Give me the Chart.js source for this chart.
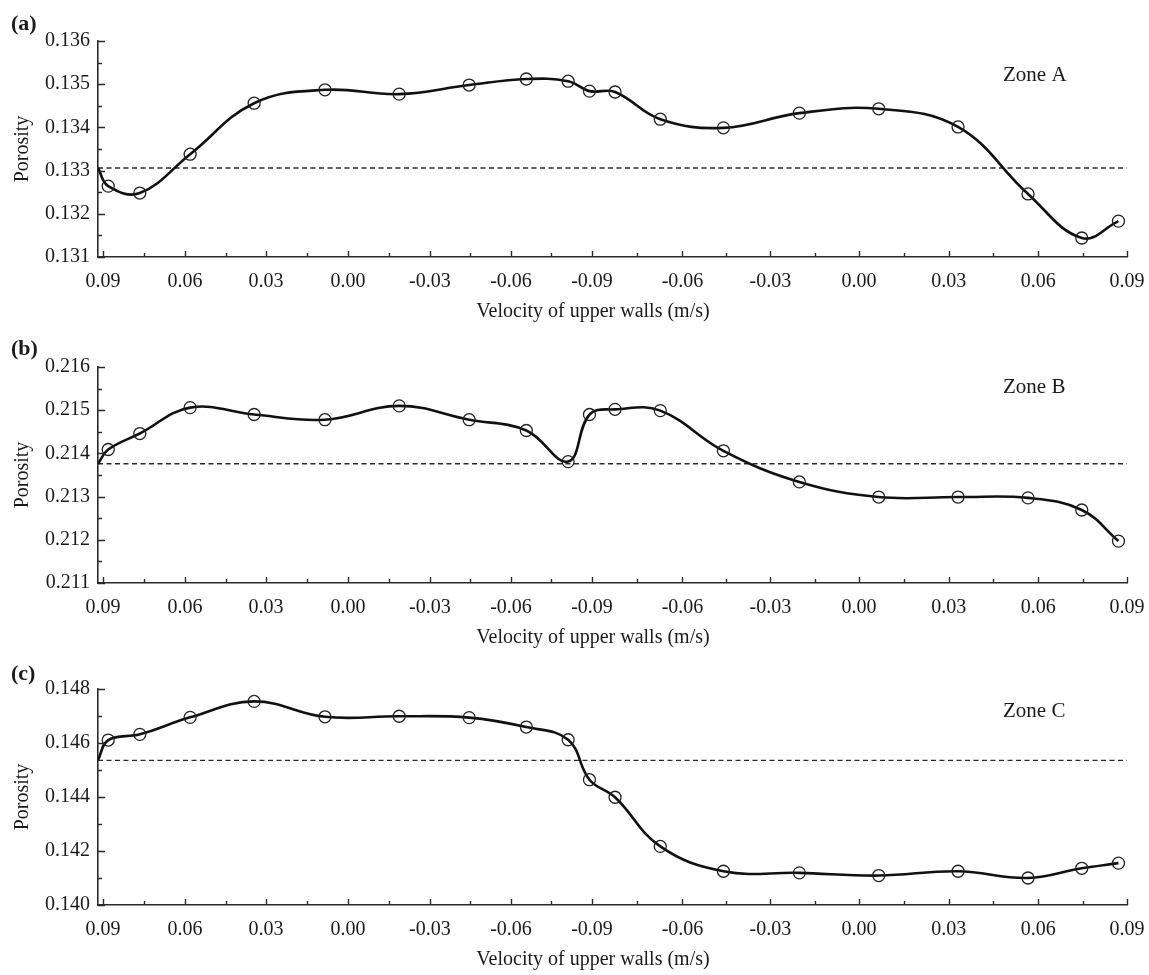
<!DOCTYPE html>
<html>
<head>
<meta charset="utf-8">
<script src="https://cdn.jsdelivr.net/npm/chart.js@4.4.1/dist/chart.umd.min.js"></script>
<style>
  html, body { margin: 0; padding: 0; background: #ffffff; }
  #wrap { position: relative; width: 1149px; height: 975px; overflow: hidden; }
  .panel { position: absolute; left: 0; width: 1149px; height: 325px; }
</style>
</head>
<body>
<div id="wrap">
  <div class="panel" style="top:0px"><canvas id="zoneA" width="1149" height="325"></canvas></div>
  <div class="panel" style="top:326px"><canvas id="zoneB" width="1149" height="325"></canvas></div>
  <div class="panel" style="top:648px"><canvas id="zoneC" width="1149" height="325"></canvas></div>
</div>
<script>
// Shearing cycle position (axis units) and the wall velocity printed at each major tick
const xTickPositions = [0, 0.96, 1.91, 2.87, 3.83, 4.78, 5.73, 6.79, 7.82, 8.86, 9.91, 10.96, 12];
const xTickLabels = ['0.09', '0.06', '0.03', '0.00', '-0.03', '-0.06', '-0.09', '-0.06', '-0.03', '0.00', '0.03', '0.06', '0.09'];
const xStart = -0.06;
const xEnd = 12;
const xTitle = 'Velocity of upper walls (m/s)';

// Sampling positions along the cycle (first entry is the initial state)
const sampleX = [-0.06, 0.06, 0.43, 1.02, 1.77, 2.60, 3.47, 4.29, 4.96, 5.45, 5.70, 6.00, 6.53, 7.27, 8.16, 9.09, 10.02, 10.84, 11.47, 11.90];

// Initial porosity of each zone (dashed reference line)
const initialA = 0.13306;
const initialB = 0.21376;
const initialC = 0.14536;

// Porosity per zone
const porosityA = [initialA, 0.13264, 0.13248, 0.13338, 0.13456, 0.13487, 0.13477, 0.13498, 0.13512, 0.13507, 0.13484, 0.13482, 0.13419, 0.13399, 0.13433, 0.13443, 0.13401, 0.13246, 0.13144, 0.13183];
const porosityB = [initialB, 0.21409, 0.21446, 0.21506, 0.21490, 0.21478, 0.21510, 0.21478, 0.21453, 0.21381, 0.21490, 0.21502, 0.21499, 0.21406, 0.21334, 0.21299, 0.21299, 0.21297, 0.21269, 0.21197];
const porosityC = [initialC, 0.14611, 0.14632, 0.14695, 0.14754, 0.14697, 0.14699, 0.14694, 0.14659, 0.14612, 0.14464, 0.14399, 0.14217, 0.14125, 0.14119, 0.14109, 0.14125, 0.14100, 0.14136, 0.14155];

// Y tick values per zone
const yTicksA = [0.131, 0.132, 0.133, 0.134, 0.135, 0.136];
const yTicksB = [0.211, 0.212, 0.213, 0.214, 0.215, 0.216];
const yTicksC = [0.140, 0.142, 0.144, 0.146, 0.148];

const FONT = '"Liberation Serif", "Times New Roman", serif';
const INK = '#1a1a1a';

// Inward major/minor tick marks, the x-axis title, the panel letter and zone caption
const decorations = {
  id: 'decorations',
  afterDraw(chart, args, o) {
    const { ctx, chartArea: a, scales: { x, y } } = chart;
    ctx.save();
    ctx.strokeStyle = '#2a2a2a';
    ctx.lineWidth = 1.4;
    ctx.beginPath();
    xTickPositions.forEach((v, i) => {
      const px = Math.round(x.getPixelForValue(v)) + 0.5;
      ctx.moveTo(px, a.bottom);
      ctx.lineTo(px, a.bottom - 6);
      if (i < xTickPositions.length - 1) {
        const m = Math.round(x.getPixelForValue((v + xTickPositions[i + 1]) / 2)) + 0.5;
        ctx.moveTo(m, a.bottom);
        ctx.lineTo(m, a.bottom - 4);
      }
    });
    o.yTicks.forEach((v, i) => {
      const py = Math.round(y.getPixelForValue(v)) + 0.5;
      ctx.moveTo(a.left, py);
      ctx.lineTo(a.left + 7, py);
      if (i < o.yTicks.length - 1) {
        const m = Math.round(y.getPixelForValue((v + o.yTicks[i + 1]) / 2)) + 0.5;
        ctx.moveTo(a.left, m);
        ctx.lineTo(a.left + 4, m);
      }
    });
    ctx.stroke();

    ctx.fillStyle = INK;
    ctx.textBaseline = 'middle';
    ctx.textAlign = 'center';
    ctx.font = '20px ' + FONT;
    ctx.fillText(xTitle, 593, a.bottom + 55);

    ctx.textAlign = 'left';
    ctx.font = 'bold 22px ' + FONT;
    ctx.fillText(o.letter, 11, o.letterY);
    ctx.font = '21px ' + FONT;
    ctx.fillText(o.zone, 1003, a.top + o.zoneDy);
    ctx.restore();
  }
};

function makePanel(canvasId, values, initial, yTicks, letter, letterY, zone, zoneDy) {
  const points = sampleX.map((x, i) => ({ x: x, y: values[i] }));
  new Chart(document.getElementById(canvasId), {
    type: 'line',
    data: {
      datasets: [
        {
          data: points,
          borderColor: '#111111',
          borderWidth: 2.6,
          tension: 0.4,
          fill: false,
          pointRadius: ctx => (ctx.dataIndex === 0 ? 0 : 6),
          pointBorderColor: '#222222',
          pointBorderWidth: 1.3,
          pointBackgroundColor: 'rgba(0,0,0,0)'
        },
        {
          data: [{ x: xStart, y: initial }, { x: xEnd, y: initial }],
          borderColor: '#2a2a2a',
          borderWidth: 1.3,
          borderDash: [5, 3.5],
          pointRadius: 0,
          tension: 0,
          fill: false
        }
      ]
    },
    options: {
      responsive: false,
      animation: false,
      devicePixelRatio: 1,
      layout: { padding: { top: 41, right: 22, left: 0, bottom: 0 } },
      plugins: {
        legend: { display: false },
        tooltip: { enabled: false },
        decorations: { yTicks: yTicks, letter: letter, letterY: letterY, zone: zone, zoneDy: zoneDy }
      },
      scales: {
        x: {
          type: 'linear',
          min: xStart,
          max: xEnd,
          afterBuildTicks: s => { s.ticks = xTickPositions.map(v => ({ value: v })); },
          afterFit: s => { s.height = 68; s.paddingLeft = 0; s.paddingRight = 0; },
          grid: { display: true, drawOnChartArea: false, drawTicks: false },
          border: { display: true, color: '#2a2a2a', width: 1.6 },
          ticks: {
            autoSkip: false,
            maxRotation: 0,
            padding: 13,
            color: INK,
            font: { family: FONT, size: 20 },
            callback: (v, i) => xTickLabels[i]
          },
          title: { display: false }
        },
        y: {
          type: 'linear',
          min: yTicks[0],
          max: yTicks[yTicks.length - 1],
          afterBuildTicks: s => { s.ticks = yTicks.map(v => ({ value: v })); },
          afterFit: s => { s.width = 98; s.paddingTop = 0; s.paddingBottom = 0; },
          grid: { display: true, drawOnChartArea: false, drawTicks: false },
          border: { display: true, color: '#2a2a2a', width: 1.6 },
          ticks: {
            padding: 8,
            color: INK,
            font: { family: FONT, size: 20 },
            callback: v => Number(v).toFixed(3)
          },
          title: {
            display: true,
            text: 'Porosity',
            color: INK,
            font: { family: FONT, size: 20 },
            padding: { top: 11, bottom: 0 }
          }
        }
      }
    },
    plugins: [decorations]
  });
}

makePanel('zoneA', porosityA, initialA, yTicksA, '(a)', 24, 'Zone A', 34);
makePanel('zoneB', porosityB, initialB, yTicksB, '(b)', 23, 'Zone B', 20);
makePanel('zoneC', porosityC, initialC, yTicksC, '(c)', 26, 'Zone C', 22);
</script>
</body>
</html>
